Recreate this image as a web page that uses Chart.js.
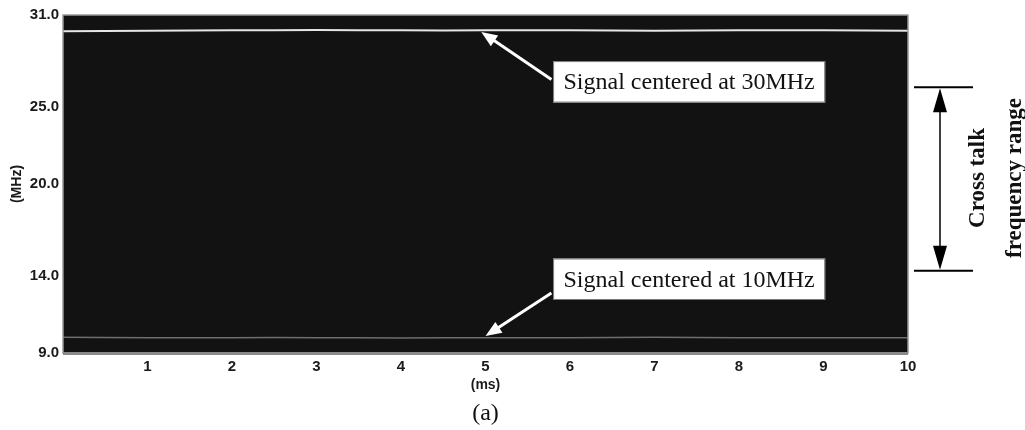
<!DOCTYPE html>
<html>
<head>
<meta charset="utf-8">
<script src="https://cdn.jsdelivr.net/npm/chart.js@4"></script>
<style>
  body { margin: 0; background: #fff; }
  #wrap { width: 1025px; height: 430px; }
</style>
</head>
<body>
<div id="wrap"><canvas id="grafico" width="1025" height="430"></canvas></div>
<script>
// tempo (ms) e frequências
const tempos = [0, 1, 2, 3, 4, 5, 6, 7, 8, 9, 10];
const sinal30 = [29.95, 29.97, 30.0, 30.02, 30.0, 30.0, 30.0, 29.98, 30.0, 30.0, 29.97];
const sinal10 = [10.02, 10.0, 10.0, 10.0, 9.98, 10.0, 10.0, 10.02, 10.0, 10.0, 10.0];
const ticksY = [9, 14, 20, 25, 31];
const ticksX = [1, 2, 3, 4, 5, 6, 7, 8, 9, 10];

function seta(ctx, x1, y1, x2, y2, len, larg, cor, lw) {
    const ang = Math.atan2(y2 - y1, x2 - x1);
    ctx.strokeStyle = cor;
    ctx.fillStyle = cor;
    ctx.lineWidth = lw;
    ctx.beginPath();
    ctx.moveTo(x1, y1);
    ctx.lineTo(x2 - Math.cos(ang) * len * 0.8, y2 - Math.sin(ang) * len * 0.8);
    ctx.stroke();
    ctx.beginPath();
    ctx.moveTo(x2, y2);
    ctx.lineTo(x2 - Math.cos(ang) * len - Math.sin(ang) * larg / 2, y2 - Math.sin(ang) * len + Math.cos(ang) * larg / 2);
    ctx.lineTo(x2 - Math.cos(ang) * len + Math.sin(ang) * larg / 2, y2 - Math.sin(ang) * len - Math.cos(ang) * larg / 2);
    ctx.closePath();
    ctx.fill();
}

function caixa(ctx, x1, y1, x2, y2, texto) {
    ctx.fillStyle = '#fff';
    ctx.fillRect(x1, y1, x2 - x1, y2 - y1);
    ctx.strokeStyle = '#777';
    ctx.lineWidth = 1;
    ctx.strokeRect(x1 + 0.5, y1 + 0.5, x2 - x1 - 1, y2 - y1 - 1);
    ctx.fillStyle = '#111';
    ctx.font = '24px "Liberation Serif", serif';
    ctx.textAlign = 'center';
    ctx.textBaseline = 'middle';
    ctx.fillText(texto, (x1 + x2) / 2, (y1 + y2) / 2 + 1);
}

const fundo = {
    id: 'fundo',
    beforeDatasetsDraw(chart) {
        const { ctx, chartArea: a } = chart;
        ctx.save();
        ctx.fillStyle = '#121212';
        ctx.fillRect(a.left, a.top, a.right - a.left, a.bottom - a.top);
        ctx.restore();
    },
    afterDatasetsDraw(chart) {
        const { ctx, chartArea: a, scales } = chart;
        const x = scales.x, y = scales.y;
        ctx.save();
        ctx.strokeStyle = '#999';
        ctx.lineWidth = 1.5;
        ctx.strokeRect(a.left, a.top, a.right - a.left, a.bottom - a.top);
        ctx.strokeStyle = '#8a8a8a';
        ctx.lineWidth = 3;
        ctx.beginPath();
        ctx.moveTo(a.left, a.bottom + 0.5);
        ctx.lineTo(a.right, a.bottom + 0.5);
        ctx.stroke();

        // setas e caixas
        seta(ctx, x.getPixelForValue(5.78), y.getPixelForValue(26.8), x.getPixelForValue(4.95), y.getPixelForValue(29.9), 16, 13, '#fff', 3);
        seta(ctx, x.getPixelForValue(5.78), y.getPixelForValue(12.9), x.getPixelForValue(5.0), y.getPixelForValue(10.1), 16, 13, '#fff', 3);
        caixa(ctx, x.getPixelForValue(5.8), y.getPixelForValue(28.0), x.getPixelForValue(9.02), y.getPixelForValue(25.3), 'Signal centered at 30MHz');
        caixa(ctx, x.getPixelForValue(5.8), y.getPixelForValue(15.15), x.getPixelForValue(9.02), y.getPixelForValue(12.45), 'Signal centered at 10MHz');

        // faixa de crosstalk
        const topo = y.getPixelForValue(26.3), base = y.getPixelForValue(14.35);
        const xl = a.right + 6, xr = a.right + 65, xm = a.right + 32;
        ctx.strokeStyle = '#000';
        ctx.lineWidth = 2;
        ctx.beginPath();
        ctx.moveTo(xl, topo); ctx.lineTo(xr, topo);
        ctx.moveTo(xl, base); ctx.lineTo(xr, base);
        ctx.stroke();
        seta(ctx, xm, (topo + base) / 2, xm, topo + 1, 24, 14, '#000', 1.5);
        seta(ctx, xm, (topo + base) / 2, xm, base - 1, 24, 14, '#000', 1.5);

        ctx.fillStyle = '#111';
        ctx.font = 'bold 23px "Liberation Serif", serif';
        ctx.textAlign = 'center';
        ctx.textBaseline = 'middle';
        ctx.translate(a.right + 70, (topo + base) / 2 - 1);
        ctx.rotate(-Math.PI / 2);
        ctx.fillText('Cross talk', 0, 0);
        ctx.fillText('frequency range', 0, 37);
        ctx.restore();

        ctx.save();
        ctx.fillStyle = '#111';
        ctx.font = '24px "Liberation Serif", serif';
        ctx.textAlign = 'center';
        ctx.textBaseline = 'middle';
        ctx.fillText('(a)', x.getPixelForValue(5), 414);
        ctx.restore();
    }
};

const ctx = document.getElementById('grafico').getContext('2d');
new Chart(ctx, {
    type: 'line',
    data: {
        labels: tempos,
        datasets: [{
            data: sinal30,
            borderColor: '#e6e6e6',
            borderWidth: 2,
            pointRadius: 0,
            tension: 0.3
        }, {
            data: sinal10,
            borderColor: '#6e6e6e',
            borderWidth: 1.5,
            pointRadius: 0,
            tension: 0.3
        }]
    },
    options: {
        responsive: false,
        animation: false,
        layout: { padding: { left: 0, top: 15, right: 117, bottom: 35 } },
        plugins: { legend: { display: false }, tooltip: { enabled: false } },
        scales: {
            x: {
                type: 'linear',
                min: 0,
                max: 10,
                grid: { display: false, drawTicks: false },
                border: { display: false },
                afterBuildTicks: function (scale) {
                    scale.ticks = ticksX.map(v => ({ value: v }));
                },
                afterFit: function (scale) { scale.height = 42; },
                ticks: {
                    padding: 5,
                    maxRotation: 0,
                    color: '#1a1a1a',
                    font: { family: '"Liberation Sans", Arial', size: 15, weight: 'bold' }
                },
                title: {
                    display: true,
                    text: '(ms)',
                    color: '#1a1a1a',
                    padding: { top: 0, bottom: 1 },
                    font: { family: '"Liberation Sans", Arial', size: 14, weight: 'bold' }
                }
            },
            y: {
                type: 'linear',
                min: 9,
                max: 31,
                grid: { display: false, drawTicks: false },
                border: { display: false },
                afterBuildTicks: function (scale) {
                    scale.ticks = ticksY.map(v => ({ value: v }));
                },
                afterFit: function (scale) { scale.width = 63; },
                ticks: {
                    padding: 4,
                    color: '#1a1a1a',
                    font: { family: '"Liberation Sans", Arial', size: 15, weight: 'bold' },
                    callback: function (v) { return v.toFixed(1); }
                },
                title: {
                    display: true,
                    text: '(MHz)',
                    color: '#1a1a1a',
                    padding: { top: 9, bottom: 0 },
                    font: { family: '"Liberation Sans", Arial', size: 14, weight: 'bold' }
                }
            }
        }
    },
    plugins: [fundo]
});
</script>
</body>
</html>
